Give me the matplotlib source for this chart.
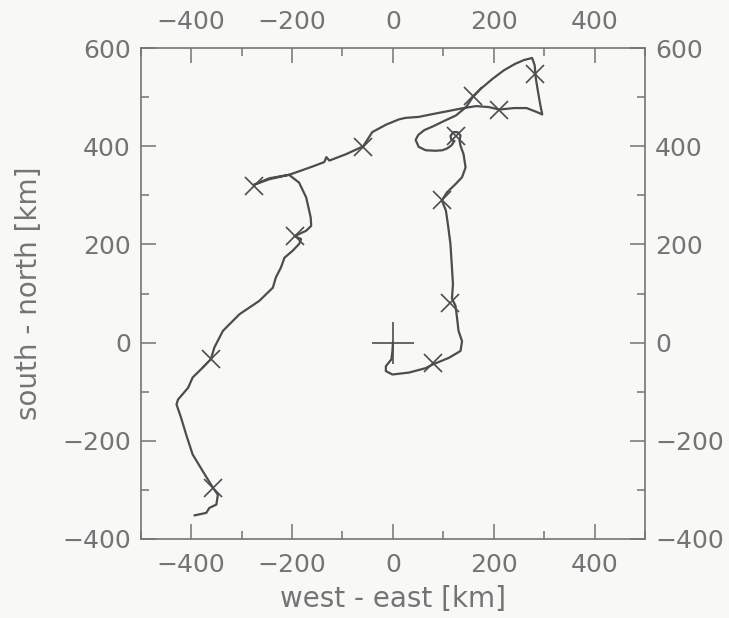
import matplotlib.pyplot as plt
from matplotlib.ticker import MultipleLocator

# balloon track, km from the launch site (launch at 0, 0)
track_x = [0, -1, -3, -14, -14, -1, 32, 65, 80, 111, 134, 137, 130, 127, 124, 117,
           119, 117, 114, 109, 105, 97, 107, 124, 137, 144, 140, 134, 132,
           134, 128, 120, 114, 116, 122, 116, 108, 98, 84, 65, 51, 45, 50,
           62, 80, 100, 125, 145, 158, 175, 198, 220, 242, 260, 276, 281, 283,
           287, 292, 296, 285, 265, 240, 211, 190, 165, 140, 110, 80, 51, 25,
           12, -14, -41, -59, -93, -126, -132, -136, -159, -192, -206, -245, -275,
           -245, -206, -186, -172, -163, -162, -172, -195, -182, -186, -199, -215,
           -222, -232, -238, -265, -304, -337, -354, -361, -377, -397, -406, -426,
           -429, -420, -410, -397, -377, -356, -347, -350, -364, -370, -393]
track_y = [0, -17, -34, -48, -58, -65, -61, -52, -44, -31, -17, 3, 24, 51, 75, 90,
           119, 153, 201, 241, 269, 290, 306, 323, 337, 357, 384, 401, 412,
           422, 429, 429, 421, 413, 411, 402, 396, 392, 391, 392, 399, 413, 423,
           433, 441, 451, 463, 480, 500, 518, 538, 555, 568, 576, 580, 565, 540,
           515, 485, 465, 470, 478, 478, 475, 480, 482, 478, 472, 466, 460, 458,
           455, 444, 429, 400, 384, 371, 378, 368, 359, 347, 342, 335, 322,
           333, 342, 326, 296, 255, 238, 228, 217, 211, 201, 187, 173,
           153, 133, 112, 85, 58, 24, -10, -34, -51, -71, -92, -116,
           -126, -153, -187, -228, -262, -297, -310, -330, -337, -347, -352]

# positions marked along the track
mark_x = [80, 113, 97, 126, 158, 211, 281, -59, -275, -195, -361, -356]
mark_y = [-42, 81, 290, 421, 503, 475, 547, 398, 320, 217, -34, -297]

launch_x = [0]
launch_y = [0]

ink = '#4d4d4d'
txt = '#747474'
bg = '#f8f8f6'

plt.rcParams['font.family'] = 'DejaVu Sans'
plt.rcParams['font.size'] = 18

fig = plt.figure(figsize=(7.29, 6.18), dpi=100, facecolor=bg)
ax = fig.add_axes([0.193, 0.128, 0.692, 0.794], facecolor=bg)

ax.plot(track_x, track_y, color=ink, lw=1.6, solid_joinstyle='round')
ax.plot(mark_x, mark_y, ls='none', marker='x', ms=13, mew=1.2, color=ink)
ax.plot(launch_x, launch_y, ls='none', marker='+', ms=30, mew=1.2, color=ink)

ax.set_xlim(-500, 500)
ax.set_ylim(-400, 600)
ax.xaxis.set_major_locator(MultipleLocator(200))
ax.xaxis.set_minor_locator(MultipleLocator(100))
ax.yaxis.set_major_locator(MultipleLocator(200))
ax.yaxis.set_minor_locator(MultipleLocator(100))
ax.set_xticks([-400, -200, 0, 200, 400])
ax.set_yticks([-400, -200, 0, 200, 400, 600])

ax.tick_params(which='both', direction='in', top=True, right=True,
               labeltop=True, labelright=True, color=txt, labelcolor=txt)
ax.tick_params(which='major', length=11, width=1.1)
ax.tick_params(which='minor', length=6, width=1.1)
ax.tick_params(axis='x', pad=10)
ax.tick_params(axis='y', pad=7)
for sp in ax.spines.values():
    sp.set_color(txt)
    sp.set_linewidth(1.2)

ax.set_xlabel('west - east [km]', color=txt, fontsize=20, labelpad=6)
ax.set_ylabel('south - north [km]', color=txt, fontsize=20, labelpad=14)

fig.savefig('out.png', dpi=100, facecolor=bg)
